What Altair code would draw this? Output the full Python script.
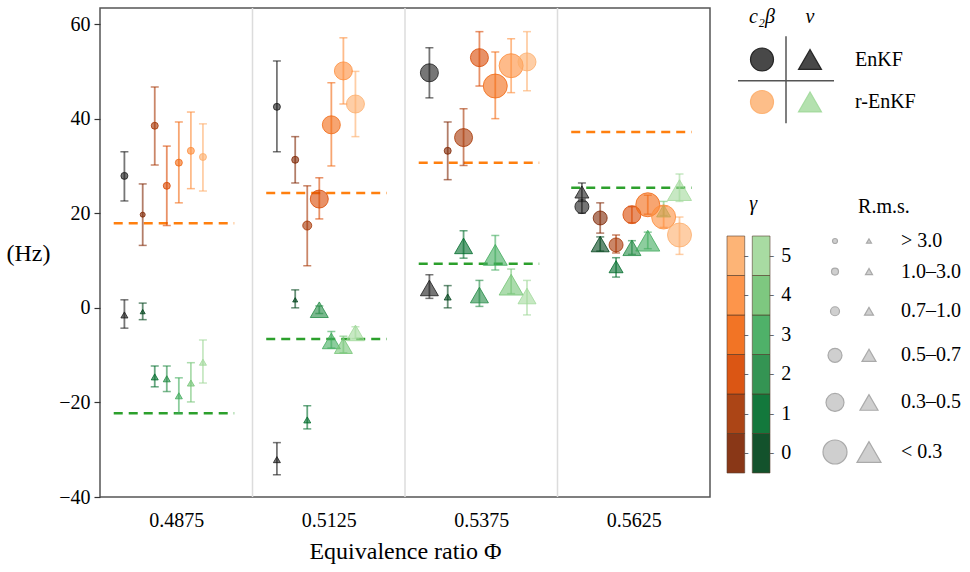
import json
import altair as alt
import pandas as pd

# ---------------- data ----------------
PHI = ["0.4875", "0.5125", "0.5375", "0.5625"]
SERIES = ["EnKF", "0", "1", "2", "3", "4", "5"]          # EnKF, then r-EnKF with gamma 0..5
RMS_LABELS = ["> 3.0", "1.0–3.0", "0.7–1.0", "0.5–0.7", "0.3–0.5", "< 0.3"]

# c2*beta (circles): value / lower / upper, one row per PHI, order of SERIES
C2B_VAL = [
    [27.9, 19.7, 38.5, 25.8, 30.7, 33.2, 31.9],
    [42.5, 31.3, 17.4, 23.0, 38.7, 50.1, 43.1],
    [49.7, 33.2, 36.0, 52.9, 46.9, 51.2, 52.0],
    [21.4, 19.0, 13.3, 19.7, 21.8, 19.2, 15.4],
]
C2B_LO = [
    [22.6, 13.2, 30.2, 17.4, 22.2, 25.2, 24.7],
    [33.0, 26.4, 8.9, 18.8, 30.0, 43.1, 36.2],
    [44.4, 27.1, 30.1, 46.9, 40.0, 45.5, 45.9],
    [20.0, 15.8, 11.6, 18.0, 19.8, 17.0, 11.3],
]
C2B_HI = [
    [33.0, 26.2, 46.7, 34.2, 39.3, 41.4, 38.9],
    [52.2, 36.2, 25.8, 27.5, 47.6, 57.1, 50.0],
    [55.0, 39.3, 42.1, 58.4, 54.1, 56.9, 58.4],
    [23.0, 22.2, 15.4, 21.4, 23.8, 21.5, 19.2],
]
C2B_RMS = [          # index into RMS_LABELS
    [1, 0, 1, 1, 1, 1, 1],
    [1, 1, 2, 4, 4, 4, 4],
    [4, 1, 4, 4, 5, 5, 4],
    [3, 3, 3, 4, 5, 5, 5],
]

# nu (triangles)
NU_VAL = [
    [-1.5, -0.8, -14.6, -15.0, -18.6, -15.9, -11.5],
    [-32.1, 1.7, -23.7, -0.4, -7.0, -8.0, -5.3],
    [4.2, 2.3, 13.1, 2.7, 11.2, 4.9, 2.5],
    [24.5, 13.5, 8.7, 12.7, 14.2, 20.5, 24.9],
]
NU_LO = [
    [-4.3, -2.5, -16.7, -17.7, -22.3, -19.9, -15.9],
    [-35.3, 0.0, -25.6, -1.2, -8.5, -9.5, -6.5],
    [2.0, 0.0, 10.5, 0.3, 8.0, 3.0, -1.5],
    [22.5, 12.0, 6.5, 11.3, 12.5, 19.5, 22.5],
]
NU_HI = [
    [1.7, 1.0, -12.3, -12.3, -14.8, -11.6, -6.8],
    [-28.5, 3.8, -20.7, 0.4, -5.0, -6.0, -4.0],
    [7.0, 4.7, 16.3, 5.8, 15.3, 8.2, 5.8],
    [26.4, 15.0, 10.6, 14.2, 16.0, 22.5, 28.3],
]
NU_RMS = [
    [1, 0, 1, 1, 1, 1, 1],
    [1, 0, 1, 4, 4, 4, 4],
    [4, 1, 4, 4, 5, 5, 4],
    [3, 4, 3, 4, 5, 3, 5],
]

# reference (dashed) values per PHI
TRUE_C2B = [17.9, 24.3, 30.7, 37.2]
TRUE_NU = [-22.3, -6.6, 9.3, 25.4]

Y_TICKS = [-40, -20, 0, 20, 40, 60]
GAMMA_LABELS = ["0", "1", "2", "3", "4", "5"]

# ---------------- styles / layout ----------------
SERIF = "Liberation Serif, Times New Roman, serif"
BLACK = "#1a1a1a"
ORANGES = ["#7f2704", "#a63603", "#d94801", "#f16913", "#fd8d3c", "#fdae6b"]
GREENS = ["#00441b", "#006d2c", "#238b45", "#41ab5d", "#74c476", "#a1d99b"]
DASH_ORANGE = "#ff7f0e"
DASH_GREEN = "#2ca02c"
SIZES = [25, 49, 81, 196, 324, 576]
ENKF_OFF = 0.16
GAMMA0_OFF = 0.28
SPACING = [0.079, 0.079, 0.104, 0.104]
DASH_FROM, DASH_TO = 0.09, 0.88
FS_TICK = 20
FS_TITLE = 24
FS_LEG = 20

W, H = 610, 489
LEG_W = 250

# ---------------- main data table ----------------
rows = []
kinds = [
    ("c2b", C2B_VAL, C2B_LO, C2B_HI, C2B_RMS),
    ("nu", NU_VAL, NU_LO, NU_HI, NU_RMS),
]
for kind, V, L, Hh, R in kinds:
    for p in range(len(PHI)):
        for s, name in enumerate(SERIES):
            off = ENKF_OFF if s == 0 else GAMMA0_OFF + (s - 1) * SPACING[p]
            rows.append(dict(
                x=p + off, kind=kind, key=f"{kind}|{name}",
                value=V[p][s], lo=L[p][s], hi=Hh[p][s],
                rms=RMS_LABELS[R[p][s]],
            ))
df = pd.DataFrame(rows)

keys, cols = [], []
for kind, pal in [("c2b", ORANGES), ("nu", GREENS)]:
    keys.append(f"{kind}|EnKF"); cols.append(BLACK)
    for g, c in zip(GAMMA_LABELS, pal):
        keys.append(f"{kind}|{g}"); cols.append(c)

true_rows = []
for p in range(len(PHI)):
    true_rows.append(dict(x=p + DASH_FROM, x2=p + DASH_TO, y=TRUE_C2B[p], c=DASH_ORANGE))
    true_rows.append(dict(x=p + DASH_FROM, x2=p + DASH_TO, y=TRUE_NU[p], c=DASH_GREEN))
df_true = pd.DataFrame(true_rows)
df_sep = pd.DataFrame({"x": list(range(1, len(PHI)))})

xscale = alt.Scale(domain=[0, len(PHI)], nice=False, zero=False)
yscale = alt.Scale(domain=[-40, 63.4], nice=False, zero=False)
cscale = alt.Scale(domain=keys, range=cols)


def size_scale():
    return alt.Scale(type="ordinal", domain=RMS_LABELS, range=SIZES)


label_expr = json.dumps(PHI) + "[floor(datum.value)]"
x_axis = alt.Axis(
    values=[i + 0.5 for i in range(len(PHI))], labelExpr=label_expr,
    title="Equivalence ratio Φ", grid=False, ticks=False, domain=False,
    labelFont=SERIF, labelFontSize=FS_TICK, labelColor="#000", labelPadding=13,
    titleFont=SERIF, titleFontSize=FS_TITLE, titleFontWeight="normal", titleColor="#000",
    titlePadding=9,
)
y_axis = alt.Axis(
    values=Y_TICKS, grid=False, domain=False, tickSize=6, tickColor="#333",
    tickWidth=1.2, labelFont=SERIF, labelFontSize=FS_TICK, labelColor="#000",
    labelPadding=4, title="(Hz)", titleAngle=0, titleX=-72, titleY=245,
    titleAlign="center", titleBaseline="middle", titleFont=SERIF,
    titleFontSize=FS_TITLE, titleFontWeight="normal", titleColor="#000",
)

sep = alt.Chart(df_sep).mark_rule(color="#dcdcdc", strokeWidth=1.5).encode(
    x=alt.X("x:Q", scale=xscale, axis=x_axis)
)
dashes = alt.Chart(df_true).mark_rule(strokeDash=[9, 6], strokeWidth=2.5).encode(
    x=alt.X("x:Q", scale=xscale), x2="x2:Q",
    y=alt.Y("y:Q", scale=yscale, axis=y_axis),
    color=alt.Color("c:N", scale=None),
)
base = alt.Chart(df)
bars = base.mark_rule(strokeWidth=1.8, opacity=0.6).encode(
    x=alt.X("x:Q", scale=xscale), y=alt.Y("lo:Q", scale=yscale), y2="hi:Q",
    color=alt.Color("key:N", scale=cscale, legend=None),
)
cap_lo = base.mark_tick(orient="horizontal", size=8, thickness=1.5, opacity=0.6).encode(
    x=alt.X("x:Q", scale=xscale), y=alt.Y("lo:Q", scale=yscale),
    color=alt.Color("key:N", scale=cscale, legend=None),
)
cap_hi = base.mark_tick(orient="horizontal", size=8, thickness=1.5, opacity=0.6).encode(
    x=alt.X("x:Q", scale=xscale), y=alt.Y("hi:Q", scale=yscale),
    color=alt.Color("key:N", scale=cscale, legend=None),
)


def pts(kind, shape):
    return base.transform_filter(alt.datum.kind == kind).mark_point(
        filled=True, shape=shape, fillOpacity=0.6, strokeOpacity=0.8, strokeWidth=1
    ).encode(
        x=alt.X("x:Q", scale=xscale), y=alt.Y("value:Q", scale=yscale),
        color=alt.Color("key:N", scale=cscale, legend=None),
        stroke=alt.Stroke("key:N", scale=cscale, legend=None),
        size=alt.Size("rms:O", scale=size_scale(), legend=None),
    )


main = alt.layer(
    sep, dashes, bars, cap_lo, cap_hi, pts("nu", "triangle-up"), pts("c2b", "circle")
).properties(
    width=W, height=H, view=alt.ViewBackground(stroke="#555", strokeWidth=1.5)
)

# ---------------- legend panel ----------------
# method legend (top)
M_ROWS = ["EnKF", "r-EnKF"]
M_HEAD = ["c₂β", "ν"]
lx = alt.Scale(domain=[0, 2], range=[50, 146])
ly = alt.Scale(domain=[-1, 1], range=[9, 94])
leg1_pts = pd.DataFrame([
    dict(col=0, row=0, shape="circle", c=BLACK),
    dict(col=1, row=0, shape="triangle-up", c=BLACK),
    dict(col=0, row=1, shape="circle", c=ORANGES[5]),
    dict(col=1, row=1, shape="triangle-up", c=GREENS[5]),
])
leg1_head = pd.DataFrame(dict(col=[0, 1], row=[-1, -1], t=M_HEAD))
leg1_lab = pd.DataFrame(dict(col=[2, 2], row=[0, 1], t=M_ROWS))
leg1_cross = pd.DataFrame(dict(x=[-0.5, 0.5], x2=[1.5, 0.5], y=[0.5, -0.55], y2=[0.5, 1.5]))

l1a = alt.Chart(leg1_cross).mark_rule(color="#555", strokeWidth=1.5).encode(
    x=alt.X("x:Q", scale=lx, axis=None), x2="x2:Q",
    y=alt.Y("y:Q", scale=ly, axis=None), y2="y2:Q",
)
l1b = alt.Chart(leg1_pts).mark_point(filled=True, size=529, fillOpacity=0.8, strokeOpacity=0.9, strokeWidth=1.2).encode(
    x=alt.X("col:Q", scale=lx, axis=None), y=alt.Y("row:Q", scale=ly, axis=None),
    shape=alt.Shape("shape:N", scale=None),
    color=alt.Color("c:N", scale=None), stroke=alt.Stroke("c:N", scale=None),
)
l1c = alt.Chart(leg1_head).mark_text(font=SERIF, fontSize=FS_LEG, fontStyle="italic", color="#000").encode(
    x=alt.X("col:Q", scale=lx, axis=None), y=alt.Y("row:Q", scale=ly, axis=None), text="t:N"
)
l1d = alt.Chart(leg1_lab).mark_text(font=SERIF, fontSize=FS_LEG, align="left", color="#000", dx=-3).encode(
    x=alt.X("col:Q", scale=lx, axis=None), y=alt.Y("row:Q", scale=ly, axis=None), text="t:N"
)
leg1 = alt.layer(l1a, l1b, l1c, l1d)

# gamma colour bar
cb_rows = []
for i, g in enumerate(GAMMA_LABELS):
    cb_rows.append(dict(col="o", g=i, y=i - 0.5, y2=i + 0.5, c=ORANGES[i], t=g))
    cb_rows.append(dict(col="g", g=i, y=i - 0.5, y2=i + 0.5, c=GREENS[i], t=g))
df_cb = pd.DataFrame(cb_rows)
cbx = alt.Scale(domain=["o", "g"], range=[15, 58], paddingInner=0.3, paddingOuter=0)
cby = alt.Scale(domain=[-0.5, 5.5], range=[465, 228], nice=False, zero=False)
cb_rect = alt.Chart(df_cb).mark_rect(opacity=0.92, stroke="#4a3020", strokeWidth=0.6).encode(
    x=alt.X("col:N", scale=cbx, axis=None),
    y=alt.Y("y:Q", scale=cby, axis=None), y2="y2:Q",
    color=alt.Color("c:N", scale=None),
)
cb_tick = alt.Chart(df_cb).mark_text(
    font="DejaVu Sans", fontSize=10, align="left", dx=8, color="#444", text="–"
).encode(
    x=alt.X("col:N", scale=cbx, axis=None), y=alt.Y("g:Q", scale=cby, axis=None),
)
cb_lab = alt.Chart(df_cb).transform_filter(alt.datum.col == "g").mark_text(
    font=SERIF, fontSize=FS_LEG, align="left", dx=20, color="#000"
).encode(
    x=alt.X("col:N", scale=cbx, axis=None), y=alt.Y("g:Q", scale=cby, axis=None), text="t:N"
)
cb_title = alt.Chart(pd.DataFrame(dict(col=["g"], g=[6.3], t=["γ"]))).mark_text(
    font=SERIF, fontSize=FS_LEG, fontStyle="italic", dx=-8, color="#000"
).encode(
    x=alt.X("col:N", scale=cbx, axis=None), y=alt.Y("g:Q", scale=cby, axis=None), text="t:N"
)
cbar = alt.layer(cb_rect, cb_tick, cb_lab, cb_title)

# r.m.s. size legend
rx = alt.Scale(domain=[0, 2], range=[123, 191])
ry = alt.Scale(type="pow", exponent=1.2, domain=[0, 5], range=[233, 444], nice=False, zero=False)
rms_pts = []
for i, lab in enumerate(RMS_LABELS):
    rms_pts.append(dict(col=0, row=i, shape="circle", rms=lab))
    rms_pts.append(dict(col=1, row=i, shape="triangle-up", rms=lab))
df_rms = pd.DataFrame(rms_pts)
df_rms_lab = pd.DataFrame(dict(col=[2] * len(RMS_LABELS), row=list(range(len(RMS_LABELS))), t=RMS_LABELS))
r_pts = alt.Chart(df_rms).mark_point(filled=True, color="#cfcfcf", stroke="#aaaaaa", strokeWidth=1.2, opacity=1).encode(
    x=alt.X("col:Q", scale=rx, axis=None), y=alt.Y("row:Q", scale=ry, axis=None),
    shape=alt.Shape("shape:N", scale=None),
    size=alt.Size("rms:O", scale=size_scale(), legend=None),
)
r_lab = alt.Chart(df_rms_lab).mark_text(font=SERIF, fontSize=FS_LEG, align="left", color="#000", dx=-2).encode(
    x=alt.X("col:Q", scale=rx, axis=None), y=alt.Y("row:Q", scale=ry, axis=None), text="t:N"
)
r_title = alt.Chart(pd.DataFrame(dict(col=[0.68], row=[-1.1], t=["R.m.s."]))).mark_text(
    font=SERIF, fontSize=FS_LEG, align="left", color="#000"
).encode(
    x=alt.X("col:Q", scale=rx, axis=None), y=alt.Y("row:Q", scale=ry, axis=None), text="t:N"
)
rmsleg = alt.layer(r_pts, r_lab, r_title)

legend = alt.layer(leg1, cbar, rmsleg).resolve_scale(
    x="independent", y="independent"
).properties(
    width=LEG_W - 3, height=H, view=alt.ViewBackground(stroke="transparent")
)

chart = alt.hconcat(main, legend, spacing=0).resolve_scale(
    x="independent", y="independent", color="independent",
    size="independent", shape="independent", stroke="independent",
).properties(
    padding={"left": 5, "top": 6, "right": 0, "bottom": 0},
    background="white",
)

chart.save("out.html", embed_options={"renderer": "svg", "actions": False})
